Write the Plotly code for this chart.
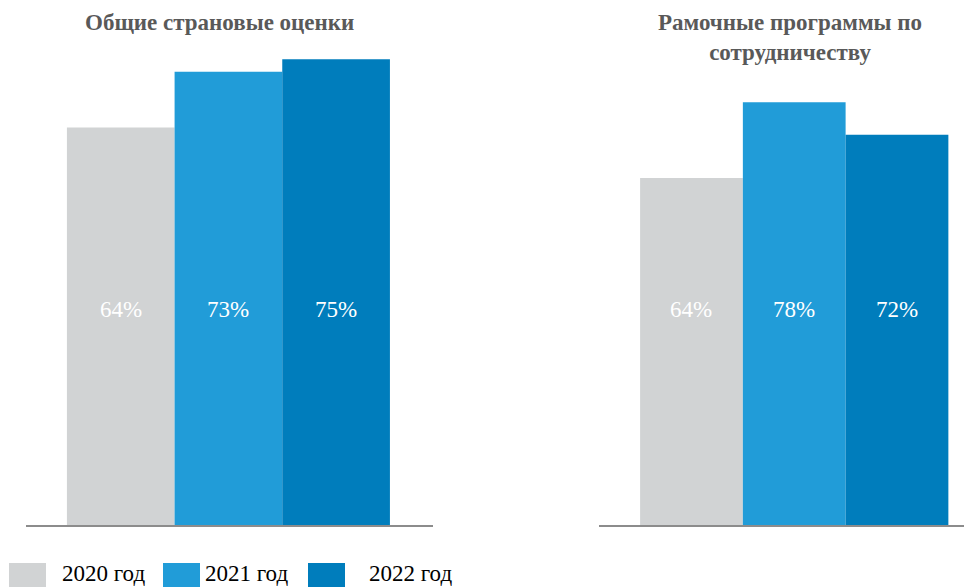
import plotly.graph_objects as go

years = ["2020 год", "2021 год", "2022 год"]
titles = ["<b>Общие страновые оценки</b>", "<b>Рамочные программы по<br>сотрудничеству</b>"]
left_values = [64, 73, 75]
right_values = [64, 78, 72]
colors = ["#D1D3D4", "#219CD8", "#007DBC"]

SERIF = "Liberation Serif, Times New Roman, serif"
OFF = 8  # page body margin
W, H = 972 - OFF, 587 - OFF
def px(x): return (x - OFF) / W
def py(y): return 1 - (y - OFF) / H

fig = go.Figure()
fig.add_trace(go.Bar(x=years, y=left_values, width=1, marker_color=colors,
                     marker_line_width=0, xaxis="x", yaxis="y", showlegend=False, hoverinfo="skip"))
fig.add_trace(go.Bar(x=years, y=right_values, width=1, marker_color=colors,
                     marker_line_width=0, xaxis="x2", yaxis="y2", showlegend=False, hoverinfo="skip"))

ytop = 8
plot_h = 525 - ytop
ydom = [py(525), 1]
axcommon = dict(showgrid=False, zeroline=False, showticklabels=False, ticks="")
fig.update_layout(
    width=W, height=H, margin=dict(l=0, r=0, t=0, b=0),
    paper_bgcolor="white", plot_bgcolor="white",
    xaxis=dict(domain=[px(26), px(433)], range=[-0.88, 2.9], type="category",
               showline=True, linecolor="#8c8c8c", linewidth=2, **axcommon),
    yaxis=dict(domain=ydom, range=[0, plot_h / 6.21], **axcommon),
    xaxis2=dict(domain=[px(599), 1], range=[-0.9, 2.73], type="category",
                showline=True, linecolor="#8c8c8c", linewidth=2, **axcommon),
    yaxis2=dict(domain=ydom, range=[0, plot_h / 5.42], anchor="x2", **axcommon),
    font=dict(family=SERIF),
)

annotations = []
annotations.append(dict(text=titles[0], x=px(219), y=py(22), xref="paper", yref="paper",
                        showarrow=False, xanchor="center", yanchor="middle",
                        font=dict(size=23, color="#595959", family=SERIF)))
annotations.append(dict(text=titles[1], x=px(790), y=py(38), xref="paper", yref="paper",
                        showarrow=False, xanchor="center", yanchor="middle",
                        font=dict(size=23, color="#595959", family=SERIF)))
lab_y = (525 - 310) / plot_h
for xr, yr, vals in [("x", "y domain", left_values), ("x2", "y2 domain", right_values)]:
    for yrs, v in zip(years, vals):
        annotations.append(dict(text=f"{v}%", x=yrs, y=lab_y, xref=xr, yref=yr,
                                showarrow=False, xanchor="center", yanchor="middle",
                                font=dict(size=23, color="white", family=SERIF)))
sw = [(9, 46), (163, 200), (308, 345)]
tx = [60, 203, 367]
shapes = []
for (a, b), t, c, lab in zip(sw, tx, colors, years):
    shapes.append(dict(type="rect", xref="paper", yref="paper", x0=px(a), x1=px(b),
                       y0=py(563), y1=py(600), fillcolor=c, line_width=0))
    annotations.append(dict(text=lab, x=px(t), y=py(573), xref="paper", yref="paper",
                            showarrow=False, xanchor="left", yanchor="middle",
                            font=dict(size=23, color="black", family=SERIF)))
fig.update_layout(annotations=annotations, shapes=shapes)

fig.write_html("out.html")
